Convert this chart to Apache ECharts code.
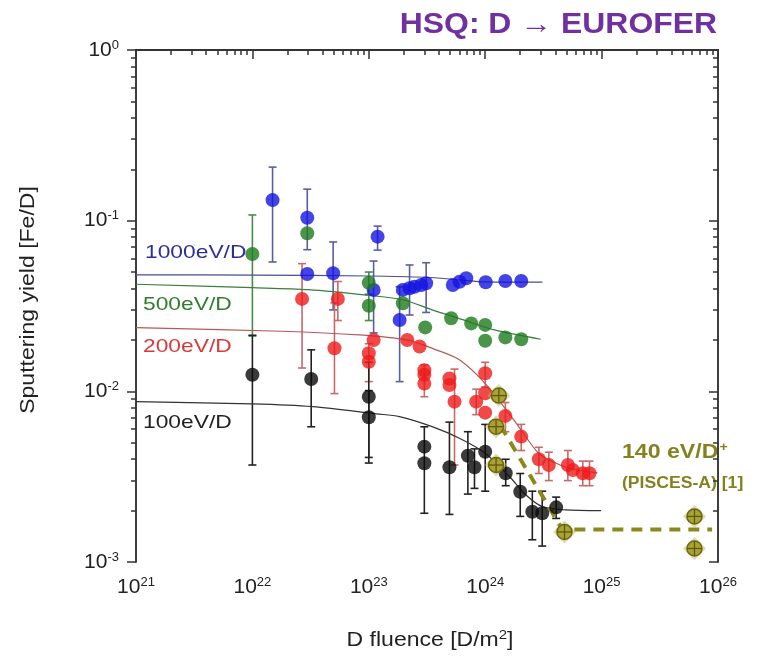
<!DOCTYPE html>
<html><head><meta charset="utf-8">
<script src="https://cdn.jsdelivr.net/npm/echarts@6/dist/echarts.min.js"></script>
<style>html,body{margin:0;padding:0;background:#fff}#c{width:771px;height:659px}</style>
</head><body><div id="c"></div>
<script>
// ---- axis ticks (exponents of 10) ----
const xTickExponents = [21, 22, 23, 24, 25, 26];
const yTickExponents = [-3, -2, -1, 0];
const minorMultipliers = [2, 3, 4, 5, 6, 7, 8, 9];

// ---- data: [fluence D/m2, yield Fe/D, errLow, errHigh] ----
const d1000 = [
  [1.49e22, 0.132, 0.0573, 0.206],
  [2.96e22, 0.104, 0.0676, 0.153],
  [2.96e22, 0.0487, null, null],
  [4.94e22, 0.0492, 0.030, 0.075],
  [1.19e23, 0.0806, 0.0672, 0.0929],
  [1.10e23, 0.0393, 0.022, 0.058],
  [1.84e23, 0.0262, 0.0114, 0.041],
  [1.96e23, 0.0393, null, null],
  [2.24e23, 0.0402, 0.028, 0.055],
  [2.47e23, 0.0410, null, null],
  [2.82e23, 0.0420, null, null],
  [3.11e23, 0.0430, 0.029, 0.0567],
  [5.27e23, 0.0420, null, null],
  [6.02e23, 0.0439, null, null],
  [6.87e23, 0.0460, null, null],
  [1.01e24, 0.0436, null, null],
  [1.49e24, 0.0443, null, null],
  [2.04e24, 0.0443, null, null]
];
const d500 = [
  [1.00e22, 0.0638, 0.0211, 0.108],
  [2.96e22, 0.0844, null, null],
  [1.00e23, 0.0433, 0.037, 0.050],
  [1.00e23, 0.0317, 0.026, 0.037],
  [1.96e23, 0.0328, null, null],
  [3.05e23, 0.0237, null, null],
  [5.10e23, 0.0268, null, null],
  [7.58e23, 0.0250, null, null],
  [1.00e24, 0.0245, null, null],
  [1.00e24, 0.0198, null, null],
  [1.49e24, 0.0207, null, null],
  [2.04e24, 0.0202, null, null]
];
const d200 = [
  [2.67e22, 0.0348, 0.0137, 0.056],
  [5.42e22, 0.0348, 0.026, 0.044],
  [5.07e22, 0.0179, 0.0097, 0.033],
  [1.10e23, 0.0200, null, null],
  [1.00e23, 0.0167, null, null],
  [1.00e23, 0.0149, 0.0114, 0.019],
  [2.14e23, 0.0200, null, null],
  [2.73e23, 0.0183, null, null],
  [3.00e23, 0.0133, null, null],
  [3.00e23, 0.0125, null, null],
  [3.00e23, 0.0111, 0.0093, 0.0143],
  [4.93e23, 0.0119, null, null],
  [4.93e23, 0.0109, null, null],
  [5.45e23, 0.0087, 0.0037, 0.0135],
  [8.37e23, 0.0087, 0.0073, 0.0103],
  [1.00e24, 0.01276, 0.0106, 0.0148],
  [1.00e24, 0.00975, null, null],
  [1.00e24, 0.0075, null, null],
  [1.49e24, 0.00718, 0.0058, 0.0086],
  [2.04e24, 0.00543, 0.0045, 0.0064],
  [2.89e24, 0.0040, 0.0033, 0.0047],
  [3.52e24, 0.0037, 0.0030, 0.0044],
  [5.13e24, 0.0037, 0.0030, 0.0045],
  [5.66e24, 0.00346, null, null],
  [6.89e24, 0.00331, 0.0028, 0.0039],
  [7.87e24, 0.00331, 0.0028, 0.0039]
];
const d100 = [
  [1.00e22, 0.0125, 0.0037, 0.0213],
  [3.20e22, 0.0118, 0.0062, 0.0175],
  [1.00e23, 0.0093, 0.0038, 0.0148],
  [1.00e23, 0.00705, 0.0041, 0.0101],
  [3.00e23, 0.00474, 0.00193, 0.0062],
  [3.00e23, 0.00379, null, null],
  [4.93e23, 0.00359, 0.0019, 0.0066],
  [7.10e23, 0.00419, 0.0025, 0.0058],
  [8.09e23, 0.00359, 0.0027, 0.0046],
  [1.00e24, 0.00443, 0.0026, 0.0064],
  [1.50e24, 0.00331, 0.0028, 0.0040],
  [2.00e24, 0.00258, 0.00185, 0.0033],
  [2.54e24, 0.00197, 0.00135, 0.0026],
  [3.09e24, 0.00193, 0.00124, 0.0026],
  [4.07e24, 0.00209, 0.0018, 0.0024]
];
const pisces = [
  [1.31e24, 0.00944],
  [1.24e24, 0.00621],
  [1.24e24, 0.0037],
  [4.80e24, 0.00150],
  [6.28e25, 0.00185],
  [6.28e25, 0.00120]
];
// ---- fitted curves ----
const fit1000 = [[1e21, 0.0481], [1e22, 0.0480], [1e23, 0.0474], [3e23, 0.0466], [6e23, 0.0450], [1e24, 0.0438], [3.1e24, 0.0436]];
const fit500 = [[1e21, 0.0424], [1e22, 0.0405], [3e22, 0.0394], [1e23, 0.0365], [2e23, 0.0343], [3.5e23, 0.0300], [6.5e23, 0.0262], [1.2e24, 0.0229], [3e24, 0.0202]];
const fit200 = [[1e21, 0.0236], [1.8e22, 0.0225], [8.3e22, 0.0214], [2.1e23, 0.0200], [3.8e23, 0.0175], [6.0e23, 0.0153], [1.0e24, 0.0111], [1.85e24, 0.0065], [2.87e24, 0.00434], [4.07e24, 0.00379], [5.3e24, 0.00354], [9.2e24, 0.00333]];
const fit100 = [[1e21, 0.0087], [1e22, 0.00844], [3.3e22, 0.00813], [1.16e23, 0.00738], [1.83e23, 0.00711], [3.5e23, 0.00621], [6.0e23, 0.00531], [1.0e24, 0.00434], [1.62e24, 0.00316], [2.24e24, 0.00247], [3.1e24, 0.00211], [4.9e24, 0.00202], [9.9e24, 0.00200]];
const fitPisces = [[1.35e24, 0.0063], [4.6e24, 0.00155], [8.9e25, 0.00155]];

const L = v => Math.log10(v);
const FONT = '"Liberation Sans", Arial, sans-serif';

const xMinor = [], yMinor = [];
xTickExponents.slice(0, -1).forEach(e => minorMultipliers.forEach(k => xMinor.push(e + L(k))));
yTickExponents.slice(0, -1).forEach(e => minorMultipliers.forEach(k => yMinor.push(e + L(k))));

const richLbl = {
  b: {fontSize: 21, fontFamily: FONT, color: '#222'},
  s: {fontSize: 13, fontFamily: FONT, color: '#222', padding: [0, 0, 10, 0]}
};
const lineStyleAxis = {color: '#333', width: 1.5};

function xAx(pos, values, len, inside, labels) {
  return {
    type: 'value', min: 21, max: 26, position: pos,
    axisLine: {show: true, lineStyle: lineStyleAxis},
    axisTick: {show: true, customValues: values, length: len, inside: inside, lineStyle: {color: '#333', width: 1.5}},
    axisLabel: labels ? {show: true, customValues: values, margin: 14, formatter: v => '{b|10}{s|' + Math.round(v) + '}', rich: richLbl} : {show: false},
    splitLine: {show: false}
  };
}
function yAx(pos, values, len, inside, labels) {
  return {
    type: 'value', min: -3, max: 0, position: pos,
    axisLine: {show: true, lineStyle: lineStyleAxis},
    axisTick: {show: true, customValues: values, length: len, inside: inside, lineStyle: {color: '#333', width: 1.5}},
    axisLabel: labels ? {show: true, customValues: values, margin: 17, formatter: v => '{b|10}{s|' + Math.round(v) + '}', rich: richLbl} : {show: false},
    splitLine: {show: false}
  };
}

function errorSeries(rows, color) {
  return {
    type: 'custom', xAxisIndex: 0, yAxisIndex: 0, z: 2, silent: true,
    data: rows.filter(r => r[2] != null).map(r => [L(r[0]), L(r[2]), L(r[3])]),
    encode: {x: 0, y: [1, 2]},
    renderItem: (params, api) => {
      const x = api.value(0);
      const a = api.coord([x, api.value(1)]), b = api.coord([x, api.value(2)]);
      const w = 4, st = {stroke: color, lineWidth: 1.6};
      return {type: 'group', children: [
        {type: 'line', shape: {x1: a[0], y1: a[1], x2: b[0], y2: b[1]}, style: st},
        {type: 'line', shape: {x1: a[0] - w, y1: a[1], x2: a[0] + w, y2: a[1]}, style: st},
        {type: 'line', shape: {x1: b[0] - w, y1: b[1], x2: b[0] + w, y2: b[1]}, style: st}
      ]};
    }
  };
}
function fitSeries(rows, color, extra) {
  return Object.assign({
    type: 'line', xAxisIndex: 0, yAxisIndex: 0, z: 3, smooth: 0.3, showSymbol: false, silent: true,
    data: rows.map(r => [L(r[0]), L(r[1])]),
    lineStyle: {color: color, width: 1.2}
  }, extra || {});
}
function dotSeries(rows, color) {
  return {
    type: 'scatter', xAxisIndex: 0, yAxisIndex: 0, z: 5, symbol: 'circle', symbolSize: 14,
    data: rows.map(r => [L(r[0]), L(r[1])]),
    itemStyle: {color: color}
  };
}

const OLIVE = '#848220';
const option = {
  animation: false,
  backgroundColor: '#fff',
  grid: {left: 136, right: 53, top: 50, bottom: 97, containLabel: false},
  xAxis: [
    xAx('bottom', xTickExponents, 9, false, true),
    xAx('bottom', xMinor, 5, false, false),
    xAx('top', xTickExponents, 9, true, false),
    xAx('top', xMinor, 5, true, false)
  ],
  yAxis: [
    yAx('left', yTickExponents, 9, false, true),
    yAx('left', yMinor, 5, false, false),
    yAx('right', yTickExponents, 9, true, false),
    yAx('right', yMinor, 5, true, false)
  ],
  series: [
    errorSeries(d1000, '#5b5ea0'),
    errorSeries(d500, '#4a8a4a'),
    errorSeries(d200, '#c86a6a'),
    errorSeries(d100, '#222'),
    fitSeries(fit1000, '#4a4d8c'),
    fitSeries(fit500, '#3d7d3d'),
    fitSeries(fit200, '#b35a5a'),
    fitSeries(fit100, '#333'),
    fitSeries(fitPisces, '#8a8a1c', {smooth: false, lineStyle: {color: '#8a8a1c', width: 4, type: [11, 8]}}),
    dotSeries(d1000, '#1414e0'),
    dotSeries(d500, '#1d7a1d'),
    dotSeries(d200, '#ee1a1a'),
    dotSeries(d100, '#0a0a0a'),
    {
      type: 'custom', xAxisIndex: 0, yAxisIndex: 0, z: 6, silent: true,
      data: pisces.map(r => [L(r[0]), L(r[1])]),
      renderItem: (params, api) => {
        const p = api.coord([api.value(0), api.value(1)]);
        const r = 7.5;
        return {type: 'group', children: [
          {type: 'polygon', shape: {points: [[p[0], p[1] - r - 4], [p[0] + r + 4, p[1]], [p[0], p[1] + r + 4], [p[0] - r - 4, p[1]]]}, style: {fill: 'rgba(190,185,90,0.5)'}},
          {type: 'circle', shape: {cx: p[0], cy: p[1], r: r}, style: {fill: '#a9a235', stroke: '#6d6912', lineWidth: 1.5}},
          {type: 'line', shape: {x1: p[0] - r, y1: p[1], x2: p[0] + r, y2: p[1]}, style: {stroke: '#5d5a0c', lineWidth: 1.3}},
          {type: 'line', shape: {x1: p[0], y1: p[1] - r, x2: p[0], y2: p[1] + r}, style: {stroke: '#5d5a0c', lineWidth: 1.3}}
        ]};
      }
    }
  ],
  graphic: [
    {type: 'text', x: 717, y: 25, scaleX: 1.1, style: {text: 'HSQ: D \u2192 EUROFER', font: 'bold 29px ' + FONT, fill: '#7030a0', align: 'right', verticalAlign: 'middle'}},
    {type: 'text', x: 145, y: 253, scaleX: 1.2, style: {text: '1000eV/D', font: '19px ' + FONT, fill: '#2d3090', verticalAlign: 'middle'}},
    {type: 'text', x: 143, y: 305, scaleX: 1.2, style: {text: '500eV/D', font: '19px ' + FONT, fill: '#2f7d2f', verticalAlign: 'middle'}},
    {type: 'text', x: 143, y: 347, scaleX: 1.2, style: {text: '200eV/D', font: '19px ' + FONT, fill: '#d63a3a', verticalAlign: 'middle'}},
    {type: 'text', x: 143, y: 423, scaleX: 1.2, style: {text: '100eV/D', font: '19px ' + FONT, fill: '#222', verticalAlign: 'middle'}},
    {type: 'text', x: 622, y: 452, scaleX: 1.1, style: {text: '{b|140 eV/D}{s|+}', fill: OLIVE, verticalAlign: 'middle', rich: {
      b: {font: 'bold 21px ' + FONT, fill: OLIVE},
      s: {font: 'bold 13px ' + FONT, fill: OLIVE, padding: [0, 0, 10, 1]}}}},
    {type: 'text', x: 622, y: 484, scaleX: 1.1, style: {text: '(PISCES-A) [1]', font: 'bold 16px ' + FONT, fill: OLIVE, verticalAlign: 'middle'}},
    {type: 'text', x: 430, y: 640, scaleX: 1.15, style: {text: '{b|D fluence [D/m}{s|2}{b|]}', fill: '#222', align: 'center', verticalAlign: 'middle', rich: {
      b: {fontSize: 20, fontFamily: FONT, fill: '#222'},
      s: {fontSize: 13, fontFamily: FONT, fill: '#222', padding: [0, 0, 10, 0]}}}},
    {type: 'text', x: 28, y: 300, rotation: Math.PI / 2, scaleX: 1.15, style: {text: 'Sputtering yield [Fe/D]', font: '20px ' + FONT, fill: '#222', align: 'center', verticalAlign: 'middle'}}
  ]
};
const chart = echarts.init(document.getElementById('c'), null, {renderer: 'canvas'});
chart.setOption(option);
</script></body></html>
